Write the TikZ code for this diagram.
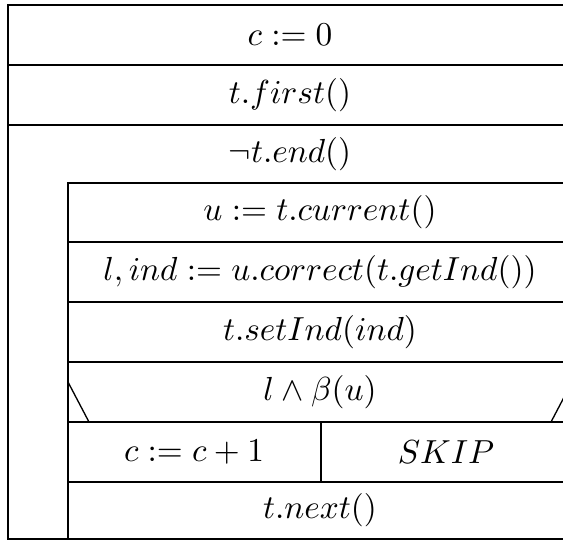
\documentclass[tikz,border=0pt]{standalone}
\usepackage{amsmath, amssymb}
\usepackage{tikz}
\usetikzlibrary{positioning}

\begin{document}
\begin{tikzpicture}[x=0.3pt, y=-0.3pt, line width=0.4pt]
    \tikzset{txt/.style={inner sep=0pt}}
    \useasboundingbox (0,0) rectangle (563,540);
    % outer sequence and loop frame
    \draw (8,5) rectangle (572,65);
    \draw (8,65) rectangle (572,125);
    \draw (8,125) rectangle (572,539);
    % loop body
    \draw (68,183) rectangle (572,242);
    \draw (68,242) rectangle (572,302);
    \draw (68,302) rectangle (572,362);
    \draw (68,362) rectangle (572,422);
    \draw (68,422) rectangle (321,482);
    \draw (321,422) rectangle (572,482);
    \draw (68,482) rectangle (572,539);
    % branch marks
    \draw (68,382) -- (89,422);
    \draw (572,382) -- (551,422);
    \node[txt] (init) at (290,35) {$c := 0$};
    \node[txt] (first) at (290,95) {$t.first()$};
    \node[txt] (cond) at (290,154) {$\neg t.end()$};
    \node[txt] (cur) at (320,212) {$u := t.current()$};
    \node[txt] (corr) at (320,272) {$l, ind := u.correct(t.getInd())$};
    \node[txt] (setind) at (320,332) {$t.setInd(ind)$};
    \node[txt] (test) at (320,392) {$l \wedge \beta(u)$};
    \node[txt] (inc) at (194,452) {$c := c + 1$};
    \node[txt] (skip) at (446,452) {$SKIP$};
    \node[txt] (next) at (320,510) {$t.next()$};
\end{tikzpicture}
\end{document}
